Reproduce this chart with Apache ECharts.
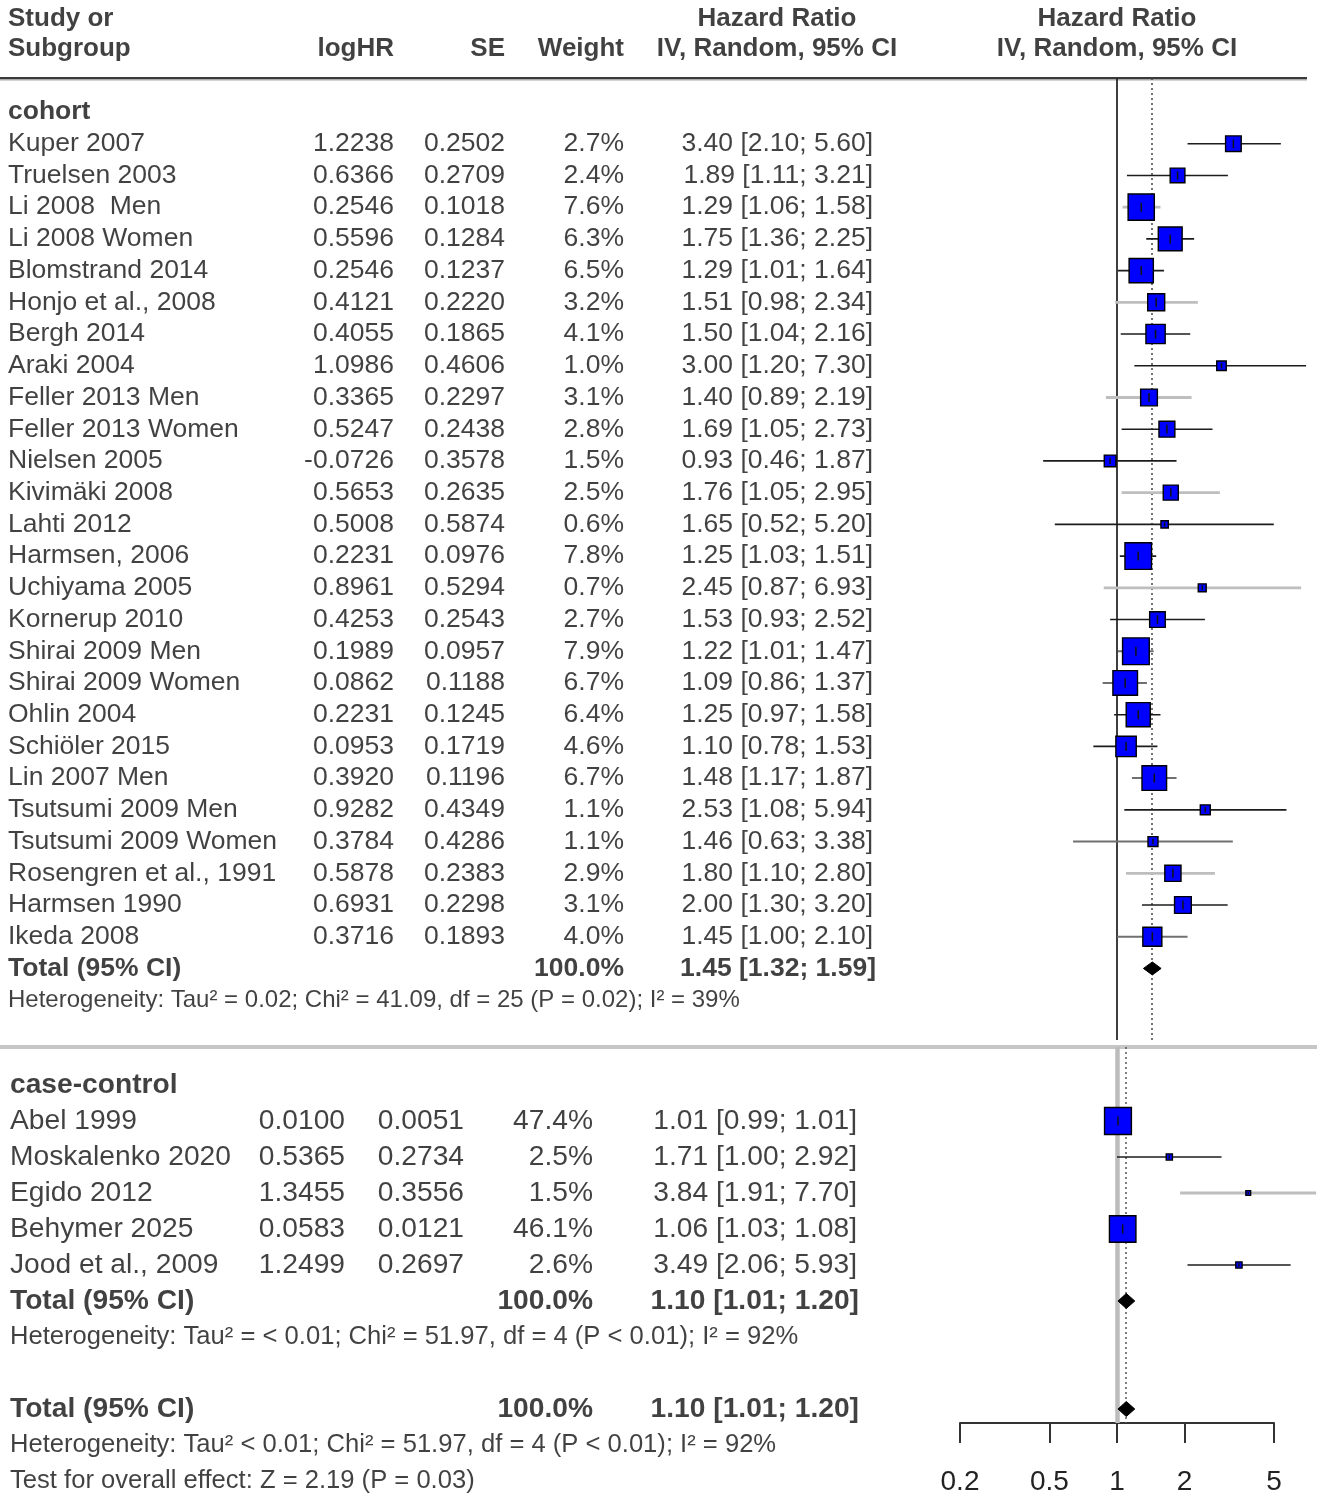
<!DOCTYPE html>
<html>
<head>
<meta charset="utf-8">
<script src="https://cdn.jsdelivr.net/npm/echarts@6/dist/echarts.min.js"></script>
<style>
html,body{margin:0;padding:0;background:#fff;}
#chart{width:1325px;height:1498px;}
</style>
</head>
<body>
<div id="chart"></div>
<script>
// ---------------- DATA ----------------
const cohortNames = ['Kuper 2007','Truelsen 2003','Li 2008  Men','Li 2008 Women','Blomstrand 2014','Honjo et al., 2008','Bergh 2014','Araki 2004','Feller 2013 Men','Feller 2013 Women','Nielsen 2005','Kivimäki 2008','Lahti 2012','Harmsen, 2006','Uchiyama 2005','Kornerup 2010','Shirai 2009 Men','Shirai 2009 Women','Ohlin 2004','Schiöler 2015','Lin 2007 Men','Tsutsumi 2009 Men','Tsutsumi 2009 Women','Rosengren et al., 1991','Harmsen 1990','Ikeda 2008'];
const cohortLogHR = [1.2238,0.6366,0.2546,0.5596,0.2546,0.4121,0.4055,1.0986,0.3365,0.5247,-0.0726,0.5653,0.5008,0.2231,0.8961,0.4253,0.1989,0.0862,0.2231,0.0953,0.3920,0.9282,0.3784,0.5878,0.6931,0.3716];
const cohortSE = [0.2502,0.2709,0.1018,0.1284,0.1237,0.2220,0.1865,0.4606,0.2297,0.2438,0.3578,0.2635,0.5874,0.0976,0.5294,0.2543,0.0957,0.1188,0.1245,0.1719,0.1196,0.4349,0.4286,0.2383,0.2298,0.1893];
const cohortWeight = [2.7,2.4,7.6,6.3,6.5,3.2,4.1,1.0,3.1,2.8,1.5,2.5,0.6,7.8,0.7,2.7,7.9,6.7,6.4,4.6,6.7,1.1,1.1,2.9,3.1,4.0];
const cohortHR = [3.40,1.89,1.29,1.75,1.29,1.51,1.50,3.00,1.40,1.69,0.93,1.76,1.65,1.25,2.45,1.53,1.22,1.09,1.25,1.10,1.48,2.53,1.46,1.80,2.00,1.45];
const cohortLower = [2.10,1.11,1.06,1.36,1.01,0.98,1.04,1.20,0.89,1.05,0.46,1.05,0.52,1.03,0.87,0.93,1.01,0.86,0.97,0.78,1.17,1.08,0.63,1.10,1.30,1.00];
const cohortUpper = [5.60,3.21,1.58,2.25,1.64,2.34,2.16,7.30,2.19,2.73,1.87,2.95,5.20,1.51,6.93,2.52,1.47,1.37,1.58,1.53,1.87,5.94,3.38,2.80,3.20,2.10];
const cohortTotal = [1.45, 1.32, 1.59];
const cohortHet = 'Heterogeneity: Tau² = 0.02; Chi² = 41.09, df = 25 (P = 0.02); I² = 39%';

const caseNames = ['Abel 1999','Moskalenko 2020','Egido 2012','Behymer 2025','Jood et al., 2009'];
const caseLogHR = [0.0100,0.5365,1.3455,0.0583,1.2499];
const caseSE = [0.0051,0.2734,0.3556,0.0121,0.2697];
const caseWeight = [47.4,2.5,1.5,46.1,2.6];
const caseHR = [1.01,1.71,3.84,1.06,3.49];
const caseLower = [0.99,1.00,1.91,1.03,2.06];
const caseUpper = [1.01,2.92,7.70,1.08,5.93];
const caseTotal = [1.10, 1.01, 1.20];
const caseHet = 'Heterogeneity: Tau² = < 0.01; Chi² = 51.97, df = 4 (P < 0.01); I² = 92%';

const overallTotal = [1.10, 1.01, 1.20];
const overallHet = 'Heterogeneity: Tau² < 0.01; Chi² = 51.97, df = 4 (P < 0.01); I² = 92%';
const overallTest = 'Test for overall effect: Z = 2.19 (P = 0.03)';

const axisTicks = [0.2, 0.5, 1, 2, 5];
const headerCols = ['Study or', 'Subgroup', 'logHR', 'SE', 'Weight', 'Hazard Ratio', 'IV, Random, 95% CI'];

// ---------------- STYLE / LAYOUT ----------------
const FONT = "'Liberation Sans', Arial, Helvetica, sans-serif";
const TXT = '#111';
// CI line tone per study (0 dark, 1 mid grey, 2 light grey) — purely visual
const lineTone = {'Li 2008  Men':2,'Honjo et al., 2008':2,'Feller 2013 Men':2,'Kivimäki 2008':2,'Uchiyama 2005':2,'Rosengren et al., 1991':2,
  'Shirai 2009 Men':1,'Shirai 2009 Women':1,'Lin 2007 Men':1,'Tsutsumi 2009 Women':1,'Ikeda 2008':1,'Egido 2012':2};
const toneColor = ['#1c1c1c','#707070','#bebebe'];
const toneWidth = [1.6, 2.0, 2.8];

const TOP = {y0:112, rowH:31.72, textTop:0, textBottom:1040, plotTop:78, plotBottom:1040, center:1117, decade:219, sq:9.5,
  cols:{name:8, log:394, se:505, w:624, ci:873, ciBold:876}, fs:26.5, hdrFs:26, hetFs:24};
const BOT = {y0:1085, rowH:36, textTop:1047, textBottom:1498, plotTop:1047, plotBottom:1423, center:1117, decade:224.6, sq:3.9,
  cols:{name:10, log:345, se:464, w:593, ci:857, ciBold:859}, fs:28.2, hetFs:25.6};

const LG = Math.log10;
const XL = LG(5);

function yAxisFor(sec, topPx, botPx, gi) {
  return {type:'value', gridIndex:gi, inverse:true, show:false, min:(topPx-sec.y0)/sec.rowH, max:(botPx-sec.y0)/sec.rowH};
}
function gridText(sec) { return {left:0, width:1325, top:sec.textTop, height:sec.textBottom-sec.textTop}; }
function gridPlot(sec) { return {left:sec.center-XL*sec.decade, width:2*XL*sec.decade, top:sec.plotTop, height:sec.plotBottom-sec.plotTop}; }

function t(x, r, s, align) { return {value:[x, r], name:s, label:{align:align||'right'}}; }
function textSeries(gi, items, fs, bold) {
  return {type:'scatter', xAxisIndex:gi, yAxisIndex:gi, symbolSize:1, silent:true, z:5,
    itemStyle:{color:'rgba(0,0,0,0)'}, data:items,
    label:{show:true, position:'inside', verticalAlign:'middle', formatter:p=>p.name,
      fontSize:fs, fontWeight:bold?'bold':'normal', color:TXT, fontFamily:FONT}};
}
const ciStr = (h,l,u) => h.toFixed(2)+' ['+l.toFixed(2)+'; '+u.toFixed(2)+']';

// ---------- text items ----------
function studyText(sec, names, lg, se, w, hr, lo, hi, r0) {
  const c = sec.cols, out = [];
  names.forEach((n,i)=>{
    const r = r0 + i;
    out.push(t(c.name, r, n, 'left'));
    out.push(t(c.log, r, lg[i].toFixed(4)));
    out.push(t(c.se, r, se[i].toFixed(4)));
    out.push(t(c.w, r, w[i].toFixed(1)+'%'));
    out.push(t(c.ci, r, ciStr(hr[i], lo[i], hi[i])));
  });
  return out;
}
const sumW = a => a.reduce((s,v)=>s+v,0);

const topNormal = studyText(TOP, cohortNames, cohortLogHR, cohortSE, cohortWeight, cohortHR, cohortLower, cohortUpper, 1);
const topTotalRow = cohortNames.length + 1;
const topHeader = [
  t(TOP.cols.name, -2.94, headerCols[0], 'left'),
  t(TOP.cols.name, -1.98, headerCols[1], 'left'),
  t(TOP.cols.log, -1.98, headerCols[2]),
  t(TOP.cols.se, -1.98, headerCols[3]),
  t(TOP.cols.w, -1.98, headerCols[4]),
  t(777, -2.94, headerCols[5], 'center'),
  t(777, -1.98, headerCols[6], 'center'),
  t(TOP.center, -2.94, headerCols[5], 'center'),
  t(TOP.center, -1.98, headerCols[6], 'center')
];
const topBold = [
  t(TOP.cols.name, 0, 'cohort', 'left'),
  t(TOP.cols.name, topTotalRow, 'Total (95% CI)', 'left'),
  t(TOP.cols.w, topTotalRow, Math.round(sumW(cohortWeight)).toFixed(1)+'%'),
  t(TOP.cols.ciBold, topTotalRow, ciStr(...cohortTotal))
];
const topHet = [t(TOP.cols.name, topTotalRow+1, cohortHet, 'left')];

const botNormal = studyText(BOT, caseNames, caseLogHR, caseSE, caseWeight, caseHR, caseLower, caseUpper, 1);
const botTotalRow = caseNames.length + 1;
const overallRow = botTotalRow + 3;
const botBold = [
  t(BOT.cols.name, 0, 'case-control', 'left'),
  t(BOT.cols.name, botTotalRow, 'Total (95% CI)', 'left'),
  t(BOT.cols.w, botTotalRow, Math.round(sumW(caseWeight)).toFixed(1)+'%'),
  t(BOT.cols.ciBold, botTotalRow, ciStr(...caseTotal)),
  t(BOT.cols.name, overallRow, 'Total (95% CI)', 'left'),
  t(BOT.cols.w, overallRow, '100.0%'),
  t(BOT.cols.ciBold, overallRow, ciStr(...overallTotal))
];
const botHet = [
  t(BOT.cols.name, botTotalRow+1, caseHet, 'left'),
  t(BOT.cols.name, overallRow+1, overallHet, 'left'),
  t(BOT.cols.name, overallRow+2, overallTest, 'left')
];

// ---------- forest series ----------
function ciSeries(gi, names, lo, hi, r0, marks) {
  return {type:'custom', xAxisIndex:gi, yAxisIndex:gi, clip:false, silent:true, z:2,
    data: names.map((n,i)=>[LG(lo[i]), LG(hi[i]), r0+i, lineTone[n]||0]),
    encode:{x:[0,1], y:2},
    renderItem:(params, api)=>{
      const a = api.coord([api.value(0), api.value(2)]);
      const b = api.coord([api.value(1), api.value(2)]);
      const tone = api.value(3);
      return {type:'line', shape:{x1:a[0], y1:a[1], x2:b[0], y2:b[1]}, style:{stroke:toneColor[tone], lineWidth:toneWidth[tone]}};
    },
    markLine: marks
  };
}
function squareSeries(gi, sec, hr, w, r0) {
  return {type:'scatter', xAxisIndex:gi, yAxisIndex:gi, silent:true, z:3, symbol:'rect',
    data: hr.map((h,i)=>[LG(h), r0+i, w[i]]),
    symbolSize: v => sec.sq*Math.sqrt(v[2]),
    itemStyle:{color:'#0000ff', borderColor:'#000', borderWidth:1.4, opacity:1}};
}
function tickSeries(gi, sec, hr, w, r0) {
  return {type:'scatter', xAxisIndex:gi, yAxisIndex:gi, silent:true, z:4, symbol:'rect',
    data: hr.map((h,i)=>[LG(h), r0+i, w[i]]),
    symbolSize: v => [1.5, Math.min(9, sec.sq*Math.sqrt(v[2])*0.55)],
    itemStyle:{color:'#111', opacity:1}};
}
function diamondSeries(gi, totals, rows, halfH) {
  return {type:'custom', xAxisIndex:gi, yAxisIndex:gi, clip:false, silent:true, z:4,
    data: totals.map((tt,i)=>[LG(tt[1]), LG(tt[0]), LG(tt[2]), rows[i]]),
    encode:{x:[0,1,2], y:3},
    renderItem:(params, api)=>{
      const l = api.coord([api.value(0), api.value(3)]);
      const m = api.coord([api.value(1), api.value(3)]);
      const h = api.coord([api.value(2), api.value(3)]);
      return {type:'polygon', shape:{points:[[l[0],l[1]],[m[0],m[1]-halfH],[h[0],h[1]],[m[0],m[1]+halfH]]},
        style:{fill:'#000', stroke:'#000', lineWidth:1}};
    }};
}
const vline = (x, color, width, type) => ({xAxis:LG(x), lineStyle:{color, width, type}});
const mk = lines => ({silent:true, symbol:'none', label:{show:false}, animation:false, z:1, data:lines});

const option = {
  animation:false,
  backgroundColor:'#fff',
  textStyle:{fontFamily:FONT},
  grid:[gridText(TOP), gridPlot(TOP), gridText(BOT), gridPlot(BOT)],
  xAxis:[
    {type:'value', gridIndex:0, min:0, max:1325, show:false},
    {type:'value', gridIndex:1, min:-XL, max:XL, show:false},
    {type:'value', gridIndex:2, min:0, max:1325, show:false},
    {type:'value', gridIndex:3, min:-XL, max:XL, position:'bottom',
      axisLine:{show:true, onZero:false, lineStyle:{color:'#333', width:2}},
      axisTick:{show:true, length:20, lineStyle:{color:'#333', width:2}, customValues:axisTicks.map(LG)},
      axisLabel:{show:true, customValues:axisTicks.map(LG), margin:45, fontSize:28, color:'#222', fontFamily:FONT,
        formatter:v=>String(Math.round(Math.pow(10,v)*10)/10)},
      splitLine:{show:false}}
  ],
  yAxis:[
    yAxisFor(TOP, TOP.textTop, TOP.textBottom, 0),
    yAxisFor(TOP, TOP.plotTop, TOP.plotBottom, 1),
    yAxisFor(BOT, BOT.textTop, BOT.textBottom, 2),
    yAxisFor(BOT, BOT.plotTop, BOT.plotBottom, 3)
  ],
  graphic:[
    {type:'rect', shape:{x:0, y:77, width:1307, height:2}, style:{fill:'#3a3a3a'}, silent:true},
    {type:'rect', shape:{x:0, y:79, width:1307, height:1.5}, style:{fill:'#a8a8a8'}, silent:true},
    {type:'rect', shape:{x:0, y:1045, width:1317, height:4}, style:{fill:'#c6c6c6'}, silent:true}
  ],
  series:[
    textSeries(0, topNormal, TOP.fs, false),
    textSeries(0, topHeader, TOP.hdrFs, true),
    textSeries(0, topBold, TOP.fs, true),
    textSeries(0, topHet, TOP.hetFs, false),
    ciSeries(1, cohortNames, cohortLower, cohortUpper, 1,
      mk([vline(1, '#2a2a2a', 1.8, 'solid'), vline(cohortTotal[0], '#444', 1.5, [2,3])])),
    squareSeries(1, TOP, cohortHR, cohortWeight, 1),
    tickSeries(1, TOP, cohortHR, cohortWeight, 1),
    diamondSeries(1, [cohortTotal], [topTotalRow], 6.5),
    textSeries(2, botNormal, BOT.fs, false),
    textSeries(2, botBold, BOT.fs, true),
    textSeries(2, botHet, BOT.hetFs, false),
    ciSeries(3, caseNames, caseLower, caseUpper, 1,
      mk([vline(1, '#bcbcbc', 4.5, 'solid'), vline(caseTotal[0], '#555', 1.5, [2,3])])),
    squareSeries(3, BOT, caseHR, caseWeight, 1),
    tickSeries(3, BOT, caseHR, caseWeight, 1),
    diamondSeries(3, [caseTotal, overallTotal], [botTotalRow, overallRow], 7.5)
  ]
};
const chart = echarts.init(document.getElementById('chart'), null, {renderer:'canvas'});
chart.setOption(option);
</script>
</body>
</html>
